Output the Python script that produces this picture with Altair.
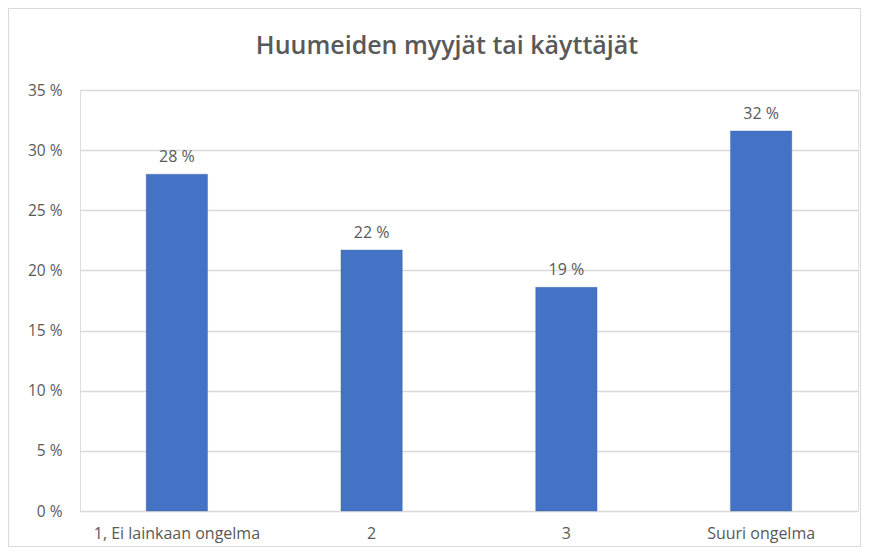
import altair as alt
import pandas as pd

categories = ["1, Ei lainkaan ongelma", "2", "3", "Suuri ongelma"]
values = [28.0, 21.7, 18.6, 31.6]
y_ticks = [0, 5, 10, 15, 20, 25, 30, 35]
title_text = "Huumeiden myyjät tai käyttäjät"

df = pd.DataFrame({"cat": categories, "val": values})
df["label"] = [f"{round(v)} %" for v in values]

FONT = "Open Sans"
GREY = "#595959"

W, H = 778, 421

base = alt.Chart(df)

one = pd.DataFrame({"t": [title_text]})

border = alt.Chart(one).mark_rect(
    fill=None, stroke="#d9d9d9", strokeWidth=1, clip=False
).encode(
    x=alt.value(-71.5), x2=alt.value(780.5), y=alt.value(-81.5), y2=alt.value(456.5)
)

title = alt.Chart(one).mark_text(
    fontSize=25, font=FONT, fontWeight=600, color=GREY, baseline="middle", align="center"
).encode(
    x=alt.value(367), y=alt.value(-44), text="t:N"
)

bars = base.mark_bar(color="#4472c4", stroke="#2f5597", strokeWidth=0.3).encode(
    x=alt.X("cat:N", sort=categories, title=None,
            scale=alt.Scale(paddingInner=0.685, paddingOuter=0.34),
            axis=alt.Axis(labelAngle=0, domain=True, domainColor="#d9d9d9", ticks=False,
                          labelPadding=14, labelFontSize=16, labelColor=GREY, labelFont=FONT)),
    y=alt.Y("val:Q", title=None,
            scale=alt.Scale(domain=[0, 35], nice=False),
            axis=alt.Axis(values=y_ticks, domain=False, ticks=False, labelPadding=18,
                          labelFontSize=15.5, labelColor=GREY, labelFont=FONT,
                          gridColor="#d9d9d9", gridWidth=1.5,
                          labelExpr="datum.value + ' %'")),
)

text = base.mark_text(dy=-17, fontSize=16, color=GREY, font=FONT).encode(
    x=alt.X("cat:N", sort=categories),
    y="val:Q",
    text="label:N",
)

chart = (border + title + bars + text).properties(
    width=W, height=H,
    autosize=alt.AutoSizeParams(type="none"),
    padding={"left": 72, "top": 82, "right": 3, "bottom": 36},
).configure_view(stroke=None).configure(background="white")

chart.save("out.html", embed_options={"renderer": "svg", "actions": False})
